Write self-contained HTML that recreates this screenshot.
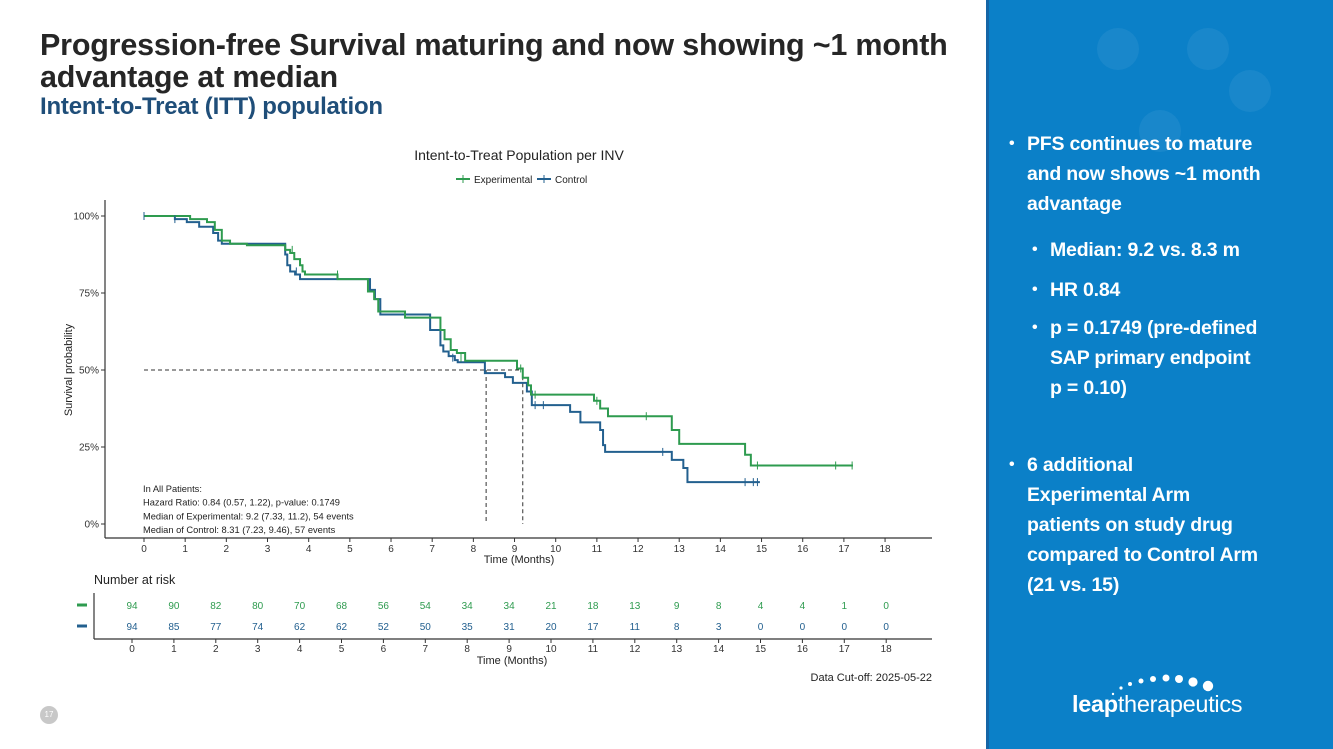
<!DOCTYPE html>
<html><head><meta charset="utf-8">
<style>
body{margin:0;width:1333px;height:749px;overflow:hidden;background:#fff;font-family:"Liberation Sans",sans-serif;position:relative}
.title{position:absolute;left:40px;top:29px;font-size:30.5px;font-weight:bold;color:#262626;line-height:32px;width:960px;letter-spacing:-0.2px}
.sub{position:absolute;left:40px;top:93px;font-size:24px;font-weight:bold;color:#1f4e79;letter-spacing:-0.2px}
.panel{position:absolute;left:986px;top:0;width:347px;height:749px;background:#0b80c8;border-left:3px solid #1565a6;box-sizing:border-box;overflow:hidden}
.panel .c{position:absolute;border-radius:50%;background:rgba(255,255,255,0.06)}
.b{position:absolute;color:#fff;font-weight:bold;font-size:19.5px;line-height:30px;white-space:nowrap;letter-spacing:-0.2px}
.b:before{content:"•";position:absolute;left:-18px;font-size:16px}
svg{position:absolute;left:0;top:0}
</style></head><body>
<div class="title">Progression-free Survival maturing and now showing ~1 month<br>advantage at median</div>
<div class="sub">Intent-to-Treat (ITT) population</div>
<div class="panel">
<div class="c" style="left:108px;top:28px;width:42px;height:42px"></div>
<div class="c" style="left:198px;top:28px;width:42px;height:42px"></div>
<div class="c" style="left:240px;top:70px;width:42px;height:42px"></div>
<div class="c" style="left:150px;top:110px;width:42px;height:42px"></div>
<div class="b" style="left:38px;top:129px">PFS continues to mature<br>and now shows ~1 month<br>advantage</div>
<div class="b" style="left:61px;top:235px">Median: 9.2 vs. 8.3 m</div>
<div class="b" style="left:61px;top:275px">HR 0.84</div>
<div class="b" style="left:61px;top:313px">p = 0.1749 (pre-defined<br>SAP primary endpoint<br>p = 0.10)</div>
<div class="b" style="left:38px;top:450px">6 additional<br>Experimental Arm<br>patients on study drug<br>compared to Control Arm<br>(21 vs. 15)</div>
<div style="position:absolute;left:83px;top:691px;color:#fff;font-size:23.5px;letter-spacing:-0.3px"><b>leap</b>therapeutics</div>
<svg width="347" height="749">
<circle cx="124" cy="694" r="1.2" fill="#fff"/><circle cx="132" cy="688" r="1.6" fill="#fff"/><circle cx="141" cy="684" r="2" fill="#fff"/><circle cx="152" cy="681" r="2.5" fill="#fff"/><circle cx="164" cy="679" r="3" fill="#fff"/><circle cx="177" cy="678" r="3.5" fill="#fff"/><circle cx="190" cy="679" r="4" fill="#fff"/><circle cx="204" cy="682" r="4.6" fill="#fff"/><circle cx="219" cy="686" r="5.2" fill="#fff"/>
</svg>
</div>
<div style="position:absolute;left:40px;top:706px;width:18px;height:18px;border-radius:50%;background:#c8c8c8;color:#fff;font-size:8px;text-align:center;line-height:18px">17</div>
<svg id="chart" width="986" height="749"></svg>
<script>
const tExp=[0,1.12,1.53,1.72,1.89,2.09,2.5,3.43,3.55,3.65,3.79,3.85,3.91,4.7,5.44,5.59,5.69,6.34,7.2,7.3,7.45,7.6,7.8,9.06,9.2,9.33,9.4,10.93,11.08,11.27,12.82,13.0,14.6,14.74];
const sExp=[1,0.99,0.98,0.955,0.92,0.91,0.905,0.89,0.88,0.86,0.84,0.82,0.81,0.795,0.755,0.73,0.69,0.67,0.63,0.6,0.565,0.555,0.53,0.505,0.475,0.45,0.42,0.4,0.375,0.35,0.305,0.26,0.225,0.19];
const endExp=17.22;
const tCtl=[0,0.75,1.04,1.34,1.68,1.8,1.89,3.43,3.48,3.55,3.67,3.79,5.49,5.61,5.74,6.95,7.2,7.27,7.4,7.55,7.62,8.28,8.77,8.96,9.3,9.42,10.35,10.6,11.08,11.15,11.2,12.82,13.1,13.2];
const sCtl=[1,0.99,0.98,0.965,0.945,0.92,0.91,0.875,0.84,0.82,0.81,0.795,0.76,0.73,0.68,0.63,0.58,0.56,0.545,0.532,0.525,0.49,0.477,0.458,0.43,0.386,0.364,0.33,0.305,0.256,0.234,0.208,0.182,0.136];
const endCtl=14.96;
const cenExp=[[0,1],[3.6,0.89],[4.7,0.81],[7.7,0.54],[9.15,0.505],[9.5,0.42],[11.0,0.4],[12.2,0.35],[14.9,0.19],[16.8,0.19],[17.2,0.19]];
const cenCtl=[[0,1],[0.75,0.99],[3.7,0.82],[7.5,0.54],[9.5,0.386],[9.7,0.386],[12.6,0.234],[14.6,0.136],[14.8,0.136],[14.9,0.136]];
const xTicks=[0,1,2,3,4,5,6,7,8,9,10,11,12,13,14,15,16,17,18];
const yTicks=[0,25,50,75,100];
const riskExp=[94,90,82,80,70,68,56,54,34,34,21,18,13,9,8,4,4,1,0];
const riskCtl=[94,85,77,74,62,62,52,50,35,31,20,17,11,8,3,0,0,0,0];
const medExp=9.2, medCtl=8.31;
const G='#2e9b4f', B='#23608f';
const X=t=>144+t*41.17, Y=s=>524-s*308, XR=t=>132+t*41.9;
const svg=document.getElementById('chart');const NS='http://www.w3.org/2000/svg';
function add(tag,attrs,txt){const e=document.createElementNS(NS,tag);for(const k in attrs)e.setAttribute(k,attrs[k]);if(txt!==undefined)e.textContent=txt;svg.appendChild(e);return e;}
let e=add('line',{x1:105,y1:200,x2:105,y2:538,stroke:'#333','stroke-width':1.2});


e=add('line',{x1:105,y1:538,x2:932,y2:538,stroke:'#333','stroke-width':1.2});


yTicks.forEach(v=>{add('line',{x1:101,x2:105,y1:Y(v/100),y2:Y(v/100),stroke:'#333'});
e=add('text',{x:99,y:Y(v/100)+3.5,'font-size':10,'text-anchor':'end',fill:'#333'},v+'%');

});
xTicks.forEach(v=>{add('line',{x1:X(v),x2:X(v),y1:538,y2:542,stroke:'#333'});
e=add('text',{x:X(v),y:552,'font-size':10,'text-anchor':'middle',fill:'#333'},v);

});
e=add('text',{x:519,y:563,'font-size':11,'text-anchor':'middle',fill:'#222'},'Time (Months)');


e=add('text',{x:72,y:370,'font-size':11,'text-anchor':'middle',fill:'#222',transform:'rotate(-90 72 370)'},'Survival probability');


e=add('text',{x:519,y:160,'font-size':14,'text-anchor':'middle',fill:'#222'},'Intent-to-Treat Population per INV');


add('line',{x1:456,x2:470,y1:179,y2:179,stroke:G,'stroke-width':2});add('line',{x1:463,x2:463,y1:175,y2:183,stroke:G});
e=add('text',{x:474,y:183,'font-size':10,fill:'#222'},'Experimental');


add('line',{x1:537,x2:551,y1:179,y2:179,stroke:B,'stroke-width':2});add('line',{x1:544,x2:544,y1:175,y2:183,stroke:B});
e=add('text',{x:555,y:183,'font-size':10,fill:'#222'},'Control');


add('path',{d:`M${X(0)},${Y(0.5)}H${X(medExp)}V${Y(0)}M${X(medCtl)},${Y(0.5)}V${Y(0)}`,stroke:'#333',fill:'none','stroke-dasharray':'4,3','stroke-width':1});
function steps(t,s,end){let d=`M${X(t[0])},${Y(s[0])}`;for(let i=1;i<t.length;i++){d+=`H${X(t[i])}V${Y(s[i])}`;}d+=`H${X(end)}`;return d;}
e=add('path',{d:steps(tCtl,sCtl,endCtl),stroke:B,fill:'none','stroke-width':2});


e=add('path',{d:steps(tExp,sExp,endExp),stroke:G,fill:'none','stroke-width':2});


cenExp.forEach(c=>{e=add('line',{x1:X(c[0]),x2:X(c[0]),y1:Y(c[1])-4,y2:Y(c[1])+4,stroke:G,'stroke-width':1});

});
cenCtl.forEach(c=>{e=add('line',{x1:X(c[0]),x2:X(c[0]),y1:Y(c[1])-4,y2:Y(c[1])+4,stroke:B,'stroke-width':1});

});
const ann=['In All Patients:','Hazard Ratio: 0.84 (0.57, 1.22), p-value: 0.1749','Median of Experimental: 9.2 (7.33, 11.2), 54 events','Median of Control: 8.31 (7.23, 9.46), 57 events'];
ann.forEach((a,i)=>{e=add('text',{x:143,y:492+i*13.7,'font-size':9.3,fill:'#222'},a);

});
e=add('text',{x:94,y:584,'font-size':12.5,fill:'#222'},'Number at risk');


add('line',{x1:94,y1:593,x2:94,y2:639,stroke:'#333','stroke-width':1.2});
add('line',{x1:94,y1:639,x2:932,y2:639,stroke:'#333','stroke-width':1.2});
add('line',{x1:77,x2:87,y1:605,y2:605,stroke:G,'stroke-width':3});
add('line',{x1:77,x2:87,y1:626,y2:626,stroke:B,'stroke-width':3});
riskExp.forEach((v,i)=>{e=add('text',{x:XR(i),y:609,'font-size':10,'text-anchor':'middle',fill:G},v);

});
riskCtl.forEach((v,i)=>{e=add('text',{x:XR(i),y:630,'font-size':10,'text-anchor':'middle',fill:B},v);

});
xTicks.forEach(v=>{add('line',{x1:XR(v),x2:XR(v),y1:639,y2:643,stroke:'#333'});
e=add('text',{x:XR(v),y:652,'font-size':10,'text-anchor':'middle',fill:'#333'},v);

});
e=add('text',{x:512,y:664,'font-size':11,'text-anchor':'middle',fill:'#222'},'Time (Months)');


e=add('text',{x:932,y:681,'font-size':11,'text-anchor':'end',fill:'#222'},'Data Cut-off: 2025-05-22');


</script>
</body></html>
